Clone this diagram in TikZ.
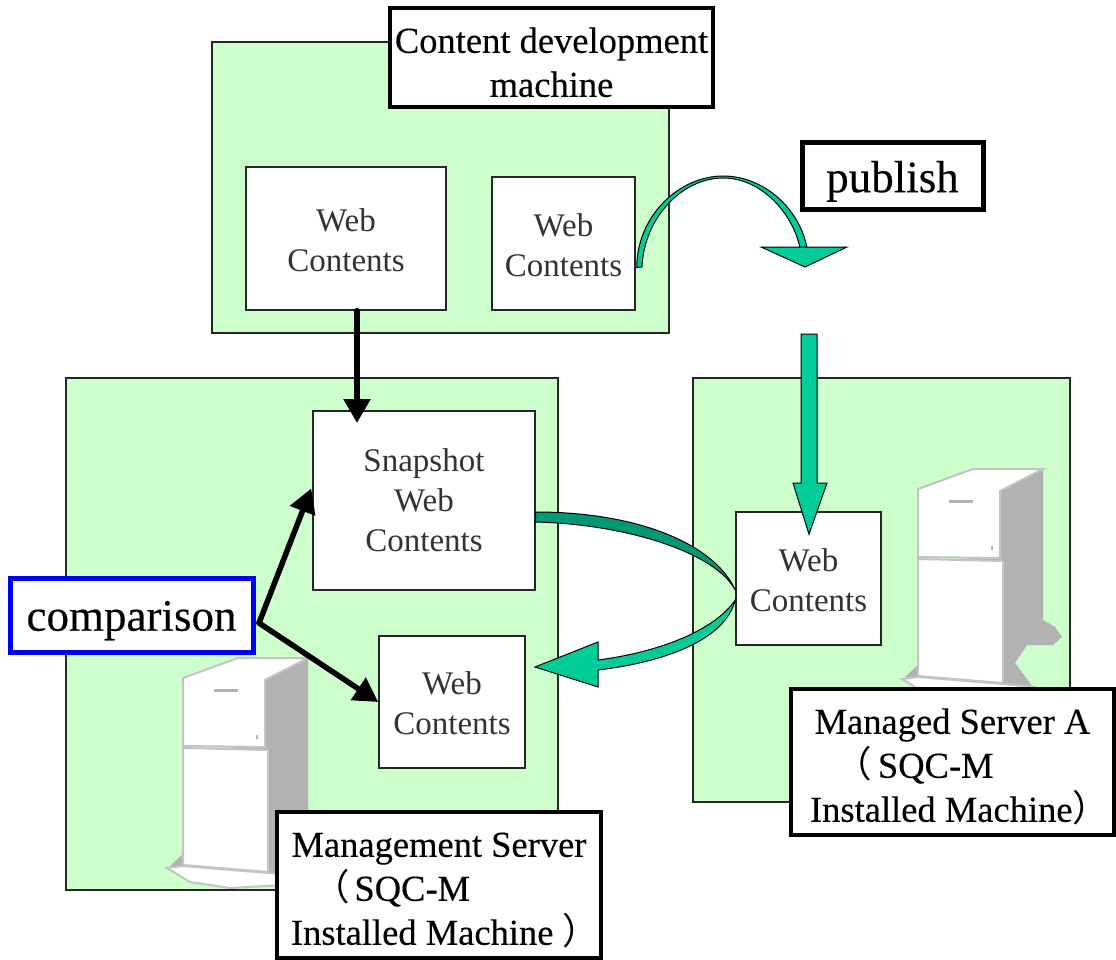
\documentclass[tikz,border=0pt]{standalone}
\usepackage{fontspec}
\setmainfont{Liberation Serif}
\newfontfamily\labelfont[FakeBold=0.25]{Liberation Serif}
\newfontfamily\cjk{Noto Sans CJK JP}
\usetikzlibrary{arrows.meta}
\definecolor{machinegreen}{HTML}{CCFFCC}
\definecolor{arrowteal}{HTML}{00CC99}
\definecolor{darkteal}{HTML}{009974}
\definecolor{servergrey}{HTML}{B2B2B2}
\definecolor{serveredge}{HTML}{C4C4C4}
\newcommand{\serverbody}[2]{
	\begin{scope}[shift={(#1,#2)}]
		\fill[servergrey] (170,866) -- (183,854) -- (265,680) -- (308,658) -- (308,809) -- (320,816) -- (327,826) -- (318,834) -- (292,834) -- (280,852) -- (295,872) -- (300,880) -- (230,888) -- cycle;
		\filldraw[draw=serveredge,fill=white,line width=2pt] (183,678) -- (238,658) -- (308,658) -- (265,680) -- (265,747) -- (183,746) -- cycle;
		\filldraw[draw=serveredge,fill=white,line width=2pt] (183,748) -- (268,750) -- (268,872) -- (183,865) -- cycle;
		\filldraw[draw=serveredge,fill=white,line width=2pt] (167,868) -- (183,866) -- (268,873) -- (300,876) -- (300,884) -- (230,888) -- (190,882) -- cycle;
		\draw[servergrey,line width=3pt] (214,690) -- (238,690);
		\draw[servergrey,line width=1.5pt] (257,735) -- (257,739);
	\end{scope}
}
\begin{document}
\begin{tikzpicture}[x=1pt,y=-1pt]
	\tikzset{machinebox/.style={draw=black!85,fill=machinegreen,line width=1.5pt,inner sep=0pt}}
	\tikzset{webbox/.style={draw=black!85,fill=white,line width=1.5pt,inner sep=0pt,align=center,text=black!80,font=\fontsize{33}{40}\selectfont}}
	\tikzset{labelbox/.style={draw=black,fill=white,line width=3.5pt,inner sep=0pt,align=center,font=\labelfont\fontsize{36.5}{44}\selectfont}}
	\tikzset{bigbox/.style={labelbox,line width=5pt,font=\labelfont\fontsize{45}{50}\selectfont}}
	\tikzset{blackarrow/.style={draw=black,line width=5.5pt,line cap=round,-{Triangle[length=24pt,width=26pt]}}}
	\tikzset{tealarrow/.style={draw=black,fill=arrowteal,line width=1pt}}
	\useasboundingbox (0,0) rectangle (1116,960);
	% machines
	\node[machinebox,minimum width=457pt,minimum height=291pt] (devmachine) at (440.5,187.5) {};
	\node[machinebox,minimum width=492pt,minimum height=512pt] (mgmtmachine) at (312,634) {};
	\node[machinebox,minimum width=377pt,minimum height=424pt] (servermachine) at (881.5,590) {};
	\serverbody{0}{0}
	\serverbody{735}{-189}
	% contents
	\node[webbox,minimum width=200pt,minimum height=143pt] (devweba) at (346,238.5) {\rule{0pt}{26pt}Web\\Contents};
	\node[webbox,minimum width=143pt,minimum height=133pt] (devwebb) at (563.5,243.5) {\rule{0pt}{26pt}Web\\Contents};
	\node[webbox,minimum width=222pt,minimum height=179pt] (snapshot) at (424,500.5) {Snapshot\\Web\\Contents};
	\node[webbox,minimum width=146pt,minimum height=132pt] (mgmtweb) at (452,702) {\rule{0pt}{26pt}Web\\Contents};
	\node[webbox,minimum width=145pt,minimum height=133pt] (serverweb) at (808.5,578.5) {\rule{0pt}{26pt}Web\\Contents};
	% connectors
	\coordinate (snapshottip) at (357,423);
	\coordinate (comparefork) at (259,623);
	\draw[blackarrow] ([xshift=11pt]devweba.south) -- (snapshottip);
	\draw[blackarrow] (comparefork) -- ([xshift=-1pt,yshift=12pt]snapshot.west);
	\draw[blackarrow] (comparefork) -- (mgmtweb.west);
	\coordinate (publishhead) at (805,267);
	\filldraw[tealarrow] ([xshift=1pt,yshift=-24pt]devwebb.east) .. controls (637,215) and (680,176) .. (723,176) .. controls (765,176) and (800,210) .. (807,248) -- (800,248) .. controls (793,214) and (762,178) .. (723,178) .. controls (682,178) and (644,218) .. (642,267) -- cycle;
	\filldraw[tealarrow] (761,247) -- (847,247) -- (publishhead) -- cycle;
	\coordinate (publishfoot) at (809,334);
	\filldraw[tealarrow] ([xshift=-8pt]publishfoot) -- ++(16,0) -- (817,483) -- (827,483) -- ([xshift=.5pt,yshift=-23pt]serverweb.north) -- (793,483) -- (801,483) -- cycle;
	\filldraw[tealarrow,fill=darkteal] (snapshot.east |- 0,512) .. controls (640,512) and (715,545) .. (serverweb.west |- 0,590) .. controls (715,552) and (625,524) .. (535,522) -- cycle;
	\coordinate (returntip) at (535,667);
	\filldraw[tealarrow] (serverweb.west |- 0,600) .. controls (715,630) and (660,652) .. (598,660) -- (598,642) -- (returntip) -- (598,687) -- (598,670) .. controls (665,662) and (725,640) .. (serverweb.west |- 0,600) -- cycle;
	% labels
	\node[labelbox,minimum width=323pt,minimum height=99pt] (devlabel) at (551.5,57.5) {\rule{0pt}{35pt}Content development\\machine};
	\node[bigbox,minimum width=181pt,minimum height=67pt] (publishlabel) at (892.5,176.5) {\rule{0pt}{41pt}publish};
	\node[bigbox,draw=blue,minimum width=243pt,minimum height=74pt] (comparelabel) at (131.5,615) {\rule{0pt}{41pt}comparison};
	\node[labelbox,minimum width=324pt,minimum height=146pt] (mgmtlabel) at (439,885) {\rule{0pt}{35pt}Management Server\\\hspace*{-94pt}{\cjk （}\hspace{4pt}SQC-M\\Installed Machine {\cjk ）}\hspace*{-12pt}};
	\node[labelbox,minimum width=323pt,minimum height=146pt] (serverlabel) at (952.5,762) {\rule{0pt}{35pt}Managed Server A\\\hspace*{-76pt}{\cjk （}\hspace{6pt}SQC-M\\Installed Machine{\cjk ）}\hspace*{-14pt}};
\end{tikzpicture}
\end{document}
